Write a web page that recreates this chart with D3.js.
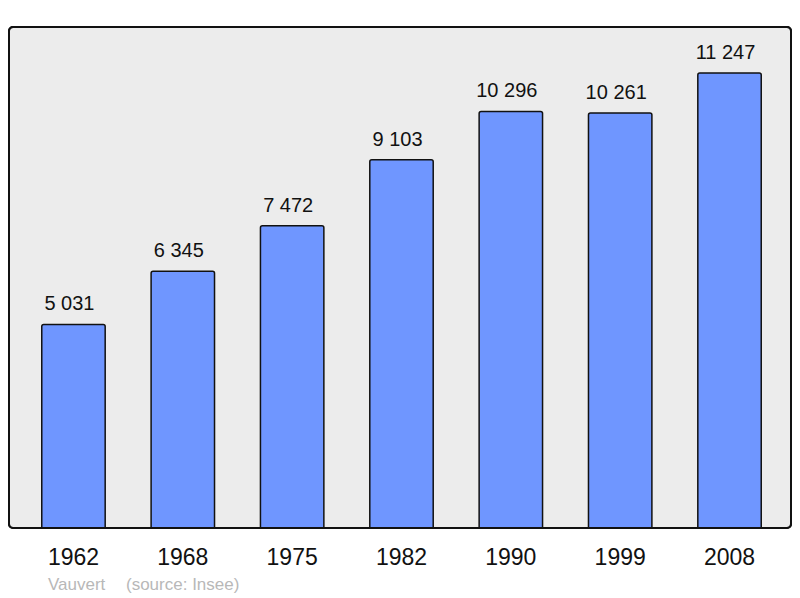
<!DOCTYPE html>
<html>
<head>
<meta charset="utf-8">
<script src="https://cdn.jsdelivr.net/npm/d3@7"></script>
<style>
  body { margin: 0; background: #fff; }
  svg { display: block; }
</style>
</head>
<body>
<svg id="chart" width="800" height="598"></svg>
<script>
// population by census year
const years = ["1962", "1968", "1975", "1982", "1990", "1999", "2008"];
const population = [5031, 6345, 7472, 9103, 10296, 10261, 11247];
const townName = "Vauvert";
const sourceLabel = "(source: Insee)";

const svg = d3.select("#chart");
const font = "'Liberation Sans', Arial, sans-serif";

// panel
const panel = { x: 9, y: 27, w: 782, h: 501 };
svg.append("rect")
    .attr("x", panel.x).attr("y", panel.y)
    .attr("width", panel.w).attr("height", panel.h)
    .attr("rx", 4)
    .attr("fill", "#ececec")
    .attr("stroke", "#111")
    .attr("stroke-width", 2);

let x = d3.scaleBand()
    .domain(years)
    .range([18.8, 784.2])
    .paddingInner(0.42)
    .paddingOuter(0.21);

let y = d3.scaleLinear()
    .domain([0, 11247])
    .range([528, 73]);

const data = years.map((yr, i) => ({ year: yr, value: population[i] }));
const fmt = v => d3.format(",")(v).replace(/,/g, " ");

// bars
svg.selectAll("rect.bar")
    .data(data)
    .enter()
    .append("rect")
    .attr("class", "bar")
    .attr("x", d => x(d.year))
    .attr("y", d => y(d.value))
    .attr("width", x.bandwidth())
    .attr("height", d => y(0) - y(d.value) + 3)
    .attr("rx", 2)
    .attr("fill", "#6f96ff")
    .attr("stroke", "#111")
    .attr("stroke-width", 1.5);

// hide bar bottoms below the panel, then redraw the panel border
svg.append("rect")
    .attr("x", 0).attr("y", panel.y + panel.h + 1)
    .attr("width", 800).attr("height", 70)
    .attr("fill", "#fff");
svg.append("rect")
    .attr("x", panel.x).attr("y", panel.y)
    .attr("width", panel.w).attr("height", panel.h)
    .attr("rx", 4)
    .attr("fill", "none")
    .attr("stroke", "#111")
    .attr("stroke-width", 2);

// value labels (sit a little left of the bar centre, as in the original)
svg.selectAll("text.val")
    .data(data)
    .enter()
    .append("text")
    .attr("class", "val")
    .attr("x", d => x(d.year) + x.bandwidth() / 2)
    .attr("dx", -4)
    .attr("y", d => y(d.value) - 14)
    .attr("text-anchor", "middle")
    .attr("font-family", font)
    .attr("font-size", "20px")
    .attr("fill", "#111")
    .text(d => fmt(d.value));

// year labels
svg.selectAll("text.year")
    .data(data)
    .enter()
    .append("text")
    .attr("class", "year")
    .attr("x", d => x(d.year) + x.bandwidth() / 2)
    .attr("y", 565)
    .attr("text-anchor", "middle")
    .attr("font-family", font)
    .attr("font-size", "23px")
    .attr("fill", "#111")
    .text(d => d.year);

// source line
svg.append("text")
    .attr("x", 48).attr("y", 590)
    .attr("font-family", font)
    .attr("font-size", "17px")
    .attr("fill", "#b8b8b8")
    .text(townName);
svg.append("text")
    .attr("x", 126).attr("y", 590)
    .attr("font-family", font)
    .attr("font-size", "17px")
    .attr("fill", "#b8b8b8")
    .text(sourceLabel);
</script>
</body>
</html>
